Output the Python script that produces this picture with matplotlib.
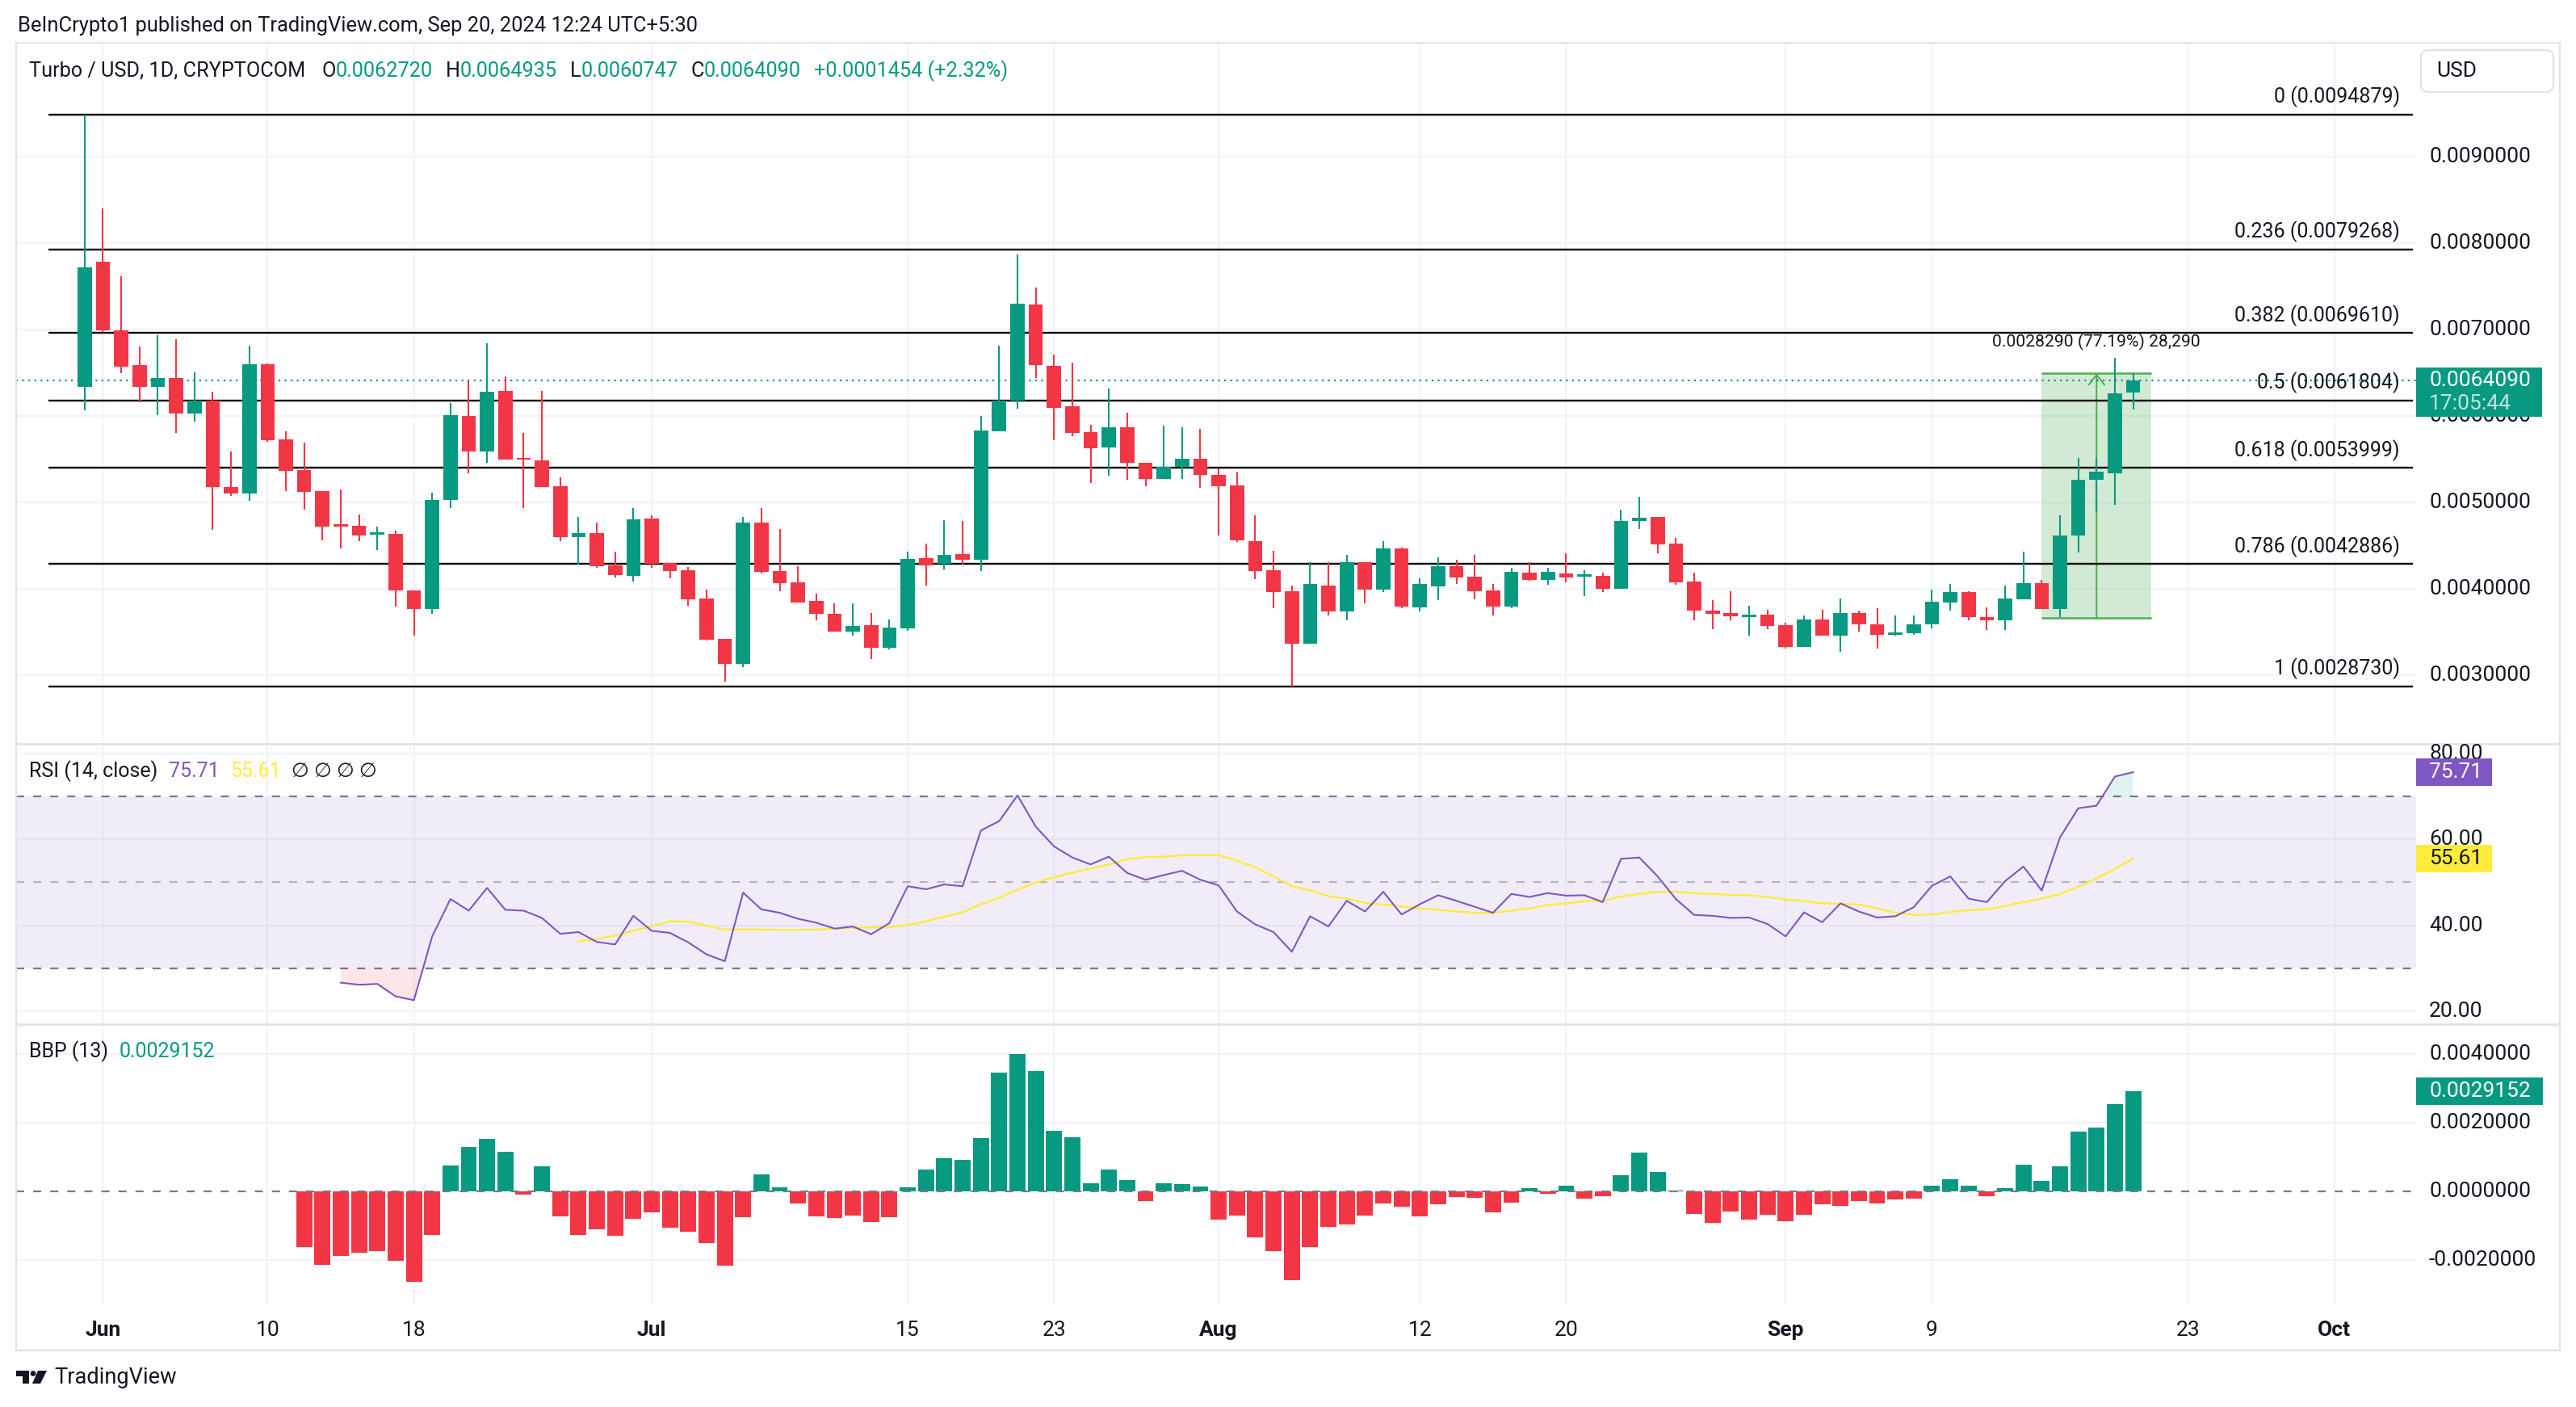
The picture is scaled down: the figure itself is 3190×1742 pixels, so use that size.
import matplotlib
matplotlib.use('Agg')
import matplotlib.pyplot as plt
import matplotlib.transforms as mtransforms
from matplotlib.patches import Rectangle, FancyBboxPatch, Circle, Polygon
import numpy as np
import pandas as pd

plt.rcParams['font.family'] = ['Roboto', 'DejaVu Sans']

# ---- data (daily candles, first bar = 2024-05-31) ----
start = pd.Timestamp('2024-05-31')

opens = [0.006342, 0.007786, 0.006995, 0.006590, 0.006342, 0.006442, 0.006033, 0.006176, 0.005184, 0.005108,
         0.006600, 0.005732, 0.005375, 0.005132, 0.004741, 0.004732, 0.004632, 0.004636, 0.003988, 0.003774,
         0.005027, 0.006004, 0.005594, 0.006290, 0.005508, 0.005490, 0.005189, 0.004598, 0.004646, 0.004274,
         0.004150, 0.004813, 0.004306, 0.004217, 0.003891, 0.003423, 0.003132, 0.004767, 0.004209, 0.004077,
         0.003860, 0.003713, 0.003512, 0.003582, 0.003322, 0.003547, 0.004356, 0.004294, 0.004403, 0.004341,
         0.005824, 0.006184, 0.007291, 0.006579, 0.006114, 0.005812, 0.005642, 0.005874, 0.005464, 0.005270,
         0.005410, 0.005503, 0.005317, 0.005196, 0.004551, 0.004218, 0.003972, 0.003371, 0.004041, 0.003745,
         0.004311, 0.003994, 0.004470, 0.003791, 0.004031, 0.004265, 0.004143, 0.003985, 0.003801, 0.004187,
         0.004109, 0.004180, 0.004146, 0.004149, 0.004006, 0.004788, 0.004835, 0.004523, 0.004087, 0.003751,
         0.003723, 0.003673, 0.003704, 0.003583, 0.003334, 0.003651, 0.003465, 0.003723, 0.003589, 0.003474,
         0.003489, 0.003589, 0.003848, 0.003966, 0.003673, 0.003636, 0.003885, 0.004065, 0.003767, 0.004617,
         0.005261, 0.005342, 0.0062720]
highs = [0.0094879, 0.008401, 0.007620, 0.006805, 0.006938, 0.006890, 0.006504, 0.006280, 0.005589, 0.006814,
         0.006610, 0.005828, 0.005694, 0.005137, 0.005151, 0.004860, 0.004722, 0.004675, 0.003988, 0.005113,
         0.006152, 0.006409, 0.006843, 0.006457, 0.005804, 0.006295, 0.005294, 0.004836, 0.004769, 0.004431,
         0.004936, 0.004850, 0.004306, 0.004256, 0.003992, 0.003423, 0.004832, 0.004941, 0.004693, 0.004263,
         0.003946, 0.003837, 0.003837, 0.003721, 0.003648, 0.004430, 0.004526, 0.004798, 0.004786, 0.005998,
         0.006811, 0.007869, 0.007485, 0.006711, 0.006618, 0.005901, 0.006320, 0.006037, 0.005464, 0.005890,
         0.005874, 0.005851, 0.005395, 0.005358, 0.004850, 0.004439, 0.004041, 0.004311, 0.004311, 0.004392,
         0.004311, 0.004554, 0.004476, 0.004125, 0.004368, 0.004336, 0.004399, 0.004062, 0.004249, 0.004311,
         0.004249, 0.004414, 0.004218, 0.004187, 0.004922, 0.005068, 0.004835, 0.004592, 0.004187, 0.003876,
         0.003978, 0.003807, 0.003760, 0.003614, 0.003692, 0.003760, 0.003894, 0.003751, 0.003782, 0.003698,
         0.003698, 0.003994, 0.004062, 0.003978, 0.003785, 0.004041, 0.004430, 0.004103, 0.004850, 0.005513,
         0.005513, 0.006678, 0.0064935]
lows = [0.006066, 0.006971, 0.006495, 0.006161, 0.006009, 0.005804, 0.005933, 0.004684, 0.005075, 0.005017,
        0.005704, 0.005137, 0.004922, 0.004565, 0.004470, 0.004550, 0.004455, 0.003802, 0.003459, 0.003716,
        0.004941, 0.005342, 0.005456, 0.005494, 0.004936, 0.005184, 0.004550, 0.004288, 0.004245, 0.004136,
        0.004088, 0.004244, 0.004128, 0.003810, 0.003403, 0.002930, 0.003101, 0.004178, 0.003977, 0.003841,
        0.003636, 0.003512, 0.003462, 0.003190, 0.003307, 0.003519, 0.004040, 0.004228, 0.004283, 0.004213,
        0.005824, 0.006083, 0.006444, 0.005719, 0.005766, 0.005224, 0.005309, 0.005262, 0.005185, 0.005270,
        0.005270, 0.005173, 0.004623, 0.004548, 0.004112, 0.003776, 0.002873, 0.003371, 0.003698, 0.003636,
        0.003838, 0.003970, 0.003776, 0.003745, 0.003869, 0.004062, 0.003885, 0.003698, 0.003782, 0.004096,
        0.004047, 0.004081, 0.003916, 0.003970, 0.004006, 0.004694, 0.004414, 0.004050, 0.003642, 0.003536,
        0.003642, 0.003465, 0.003533, 0.003315, 0.003334, 0.003465, 0.003278, 0.003511, 0.003315, 0.003458,
        0.003474, 0.003549, 0.003751, 0.003642, 0.003527, 0.003527, 0.003885, 0.003767, 0.003680, 0.004421,
        0.004891, 0.004975, 0.0060747]
closes = [0.0077195, 0.006995, 0.006576, 0.006342, 0.006442, 0.006033, 0.006176, 0.005184, 0.005108, 0.006600,
          0.005718, 0.005370, 0.005127, 0.004727, 0.004727, 0.004617, 0.004651, 0.003988, 0.003774, 0.005032,
          0.006013, 0.005594, 0.006280, 0.005494, 0.005494, 0.005184, 0.004598, 0.004646, 0.004269, 0.004160,
          0.004808, 0.004294, 0.004213, 0.003880, 0.003415, 0.003132, 0.004767, 0.004197, 0.004070, 0.003849,
          0.003713, 0.003512, 0.003574, 0.003322, 0.003555, 0.004348, 0.004275, 0.004395, 0.004341, 0.005832,
          0.006184, 0.007299, 0.006591, 0.006099, 0.005805, 0.005630, 0.005874, 0.005456, 0.005270, 0.005410,
          0.005506, 0.005316, 0.005193, 0.004567, 0.004206, 0.003963, 0.003371, 0.004056, 0.003745, 0.004311,
          0.003994, 0.004470, 0.003798, 0.004056, 0.004265, 0.004137, 0.003975, 0.003801, 0.004196, 0.004109,
          0.004196, 0.004130, 0.004162, 0.004006, 0.004788, 0.004825, 0.004517, 0.004078, 0.003751, 0.003714,
          0.003683, 0.003704, 0.003574, 0.003334, 0.003651, 0.003465, 0.003723, 0.003589, 0.003474, 0.003496,
          0.003589, 0.003854, 0.003966, 0.003673, 0.003636, 0.003891, 0.004065, 0.003767, 0.004617, 0.005261,
          0.005358, 0.006267, 0.0064090]

# RSI(14) from bar 14, its moving average from bar 27, BBP(13) from bar 12
rsi_start, ma_start, bbp_start = 14, 27, 12
rsi = [26.6, 26.1, 26.3, 23.4, 22.5, 37.4, 46.1, 43.4, 48.7, 43.6, 43.4, 41.7, 38.0, 38.4, 36.1, 35.5, 42.2,
       38.7, 38.2, 36.0, 33.2, 31.6, 47.6, 43.7, 42.9, 41.5, 40.6, 39.2, 39.7, 37.9, 40.5, 49.1, 48.4, 49.5,
       49.1, 62.1, 64.3, 70.3, 63.0, 58.4, 55.8, 54.2, 56.0, 52.2, 50.6, 51.7, 52.7, 50.6, 49.3, 43.2, 40.2,
       38.4, 33.8, 42.1, 39.7, 45.7, 43.2, 47.8, 42.5, 44.9, 47.0, 45.7, 44.3, 42.9, 47.3, 46.6, 47.5, 46.9,
       47.0, 45.4, 55.5, 55.8, 51.4, 46.1, 42.4, 42.2, 41.7, 41.8, 40.3, 37.4, 43.0, 40.7, 45.1, 43.2, 41.8,
       42.1, 44.2, 49.2, 51.4, 46.2, 45.4, 50.3, 53.7, 48.1, 60.5, 67.3, 67.9, 74.7, 75.71]
rsi_ma = [36.2, 36.8, 37.6, 38.7, 39.8, 40.9, 40.8, 39.9, 39.0, 39.0, 39.0, 38.9, 38.9, 39.0, 39.2, 39.4,
          39.5, 39.5, 40.1, 40.9, 42.0, 43.05, 44.9, 46.4, 48.3, 50.0, 51.2, 52.3, 53.2, 54.2, 55.4, 55.9,
          56.0, 56.3, 56.4, 56.4, 55.05, 53.5, 51.4, 49.1, 48.1, 46.8, 46.2, 45.2, 44.8, 44.4, 43.9, 43.6,
          43.2, 42.9, 42.9, 43.4, 43.9, 44.7, 45.1, 45.6, 45.7, 46.7, 47.3, 47.8, 47.8, 47.5, 47.3, 47.1,
          47.0, 46.6, 46.0, 45.6, 45.1, 45.0, 44.8, 43.9, 42.9, 42.4, 42.5, 43.1, 43.5, 43.7, 44.5, 45.4,
          46.2, 47.3, 49.0, 50.9, 53.1, 55.61]
bbp = [-0.001624, -0.002141, -0.001882, -0.001788, -0.001741, -0.002024, -0.002635, -0.001271, 0.000761,
       0.001294, 0.001529, 0.001161, -0.000094, 0.000729, -0.000729, -0.001271, -0.001106, -0.001294,
       -0.0008, -0.000604, -0.001059, -0.001176, -0.001506, -0.002165, -0.000753, 0.000494, 0.000118,
       -0.000353, -0.000729, -0.000776, -0.000706, -0.000894, -0.000753, 0.000118, 0.000635, 0.000965,
       0.000918, 0.001553, 0.003459, 0.004, 0.003506, 0.001765, 0.001576, 0.000235, 0.000635, 0.000329,
       -0.000282, 0.000235, 0.000212, 0.000141, -0.000824, -0.000706, -0.001341, -0.001741, -0.002588,
       -0.001624, -0.001035, -0.000965, -0.000706, -0.000353, -0.000447, -0.000729, -0.000376, -0.000165,
       -0.000188, -0.000612, -0.000329, 0.000094, -0.000071, 0.000165, -0.000212, -0.000141, 0.000471,
       0.001129, 0.000565, 0.00002, -0.000659, -0.000918, -0.000588, -0.000824, -0.000682, -0.000871,
       -0.000682, -0.000376, -0.000424, -0.000282, -0.000353, -0.000235, -0.000212, 0.000165, 0.000353,
       0.000165, -0.000141, 0.000094, 0.000776, 0.000306, 0.000729, 0.001741, 0.001859, 0.002541, 0.0029152]

fib_labels = ['0', '0.236', '0.382', '0.5', '0.618', '0.786', '1']
fib_prices = [0.0094879, 0.0079268, 0.0069610, 0.0061804, 0.0053999, 0.0042886, 0.0028730]

last_price = 0.0064090
long_from, long_to = 107, 113          # bars spanned by the long-position box
long_low, long_high = 0.003665, 0.006494

price_ticks = [0.003, 0.004, 0.005, 0.006, 0.007, 0.008, 0.009]
rsi_ticks = [20, 40, 60, 80]
bbp_ticks = [-0.002, 0.0, 0.002, 0.004]

tick_dates = ['2024-06-01', '2024-06-10', '2024-06-18', '2024-07-01', '2024-07-15', '2024-07-23', '2024-08-01',
              '2024-08-12', '2024-08-20', '2024-09-01', '2024-09-09', '2024-09-23', '2024-10-01']
tick_labels = ['Jun', '10', '18', 'Jul', '15', '23', 'Aug', '12', '20', 'Sep', '9', '23', 'Oct']

# ---- style ----
GREEN = '#089981'
RED = '#F23645'
TXT = '#131722'
GRID = '#F0F3FA'
PURPLE = '#7E57C2'
YELLOW = '#FFEB3B'
BAND = '#787B86'

W, H = 3190, 1742
fig = plt.figure(figsize=(W / 200, H / 200), dpi=200)
fig.patch.set_facecolor('white')


def fx(px):
    return px / W


def fy(py):
    return 1 - py / H


left, right = fx(20), fx(2992)
ax_p = fig.add_axes([left, fy(921), right - left, fy(53) - fy(921)])
ax_r = fig.add_axes([left, fy(1268), right - left, fy(921) - fy(1268)])
ax_b = fig.add_axes([left, fy(1616), right - left, fy(1268) - fy(1616)])

xlim = (-3.746, 127.47)
ax_p.set_ylim(0.0022099, 0.0103173)
ax_r.set_ylim(16.91, 82.32)
ax_b.set_ylim(-0.003318, 0.004871)

tick_pos = [(pd.Timestamp(d) - start).days for d in tick_dates]
for ax in (ax_p, ax_r, ax_b):
    ax.set_xlim(xlim)
    ax.set_axis_off()
    for p in tick_pos:
        ax.axvline(p, color=GRID, lw=0.8, zorder=0)

# ---- price pane ----
for v in price_ticks:
    ax_p.axhline(v, color=GRID, lw=0.8, zorder=0)

o = np.array(opens)
h = np.array(highs)
l = np.array(lows)
c = np.array(closes)
x = np.arange(len(c))
cols = [GREEN if cc >= oo else RED for oo, cc in zip(o, c)]
ax_p.vlines(x, l, h, colors=cols, lw=0.75, zorder=3)
ax_p.bar(x, np.maximum(np.abs(c - o), 0.000022), bottom=np.minimum(o, c), width=0.78,
         color=cols, linewidth=0, zorder=3.1)

ax_p.hlines(fib_prices, -2.0, 127.3, colors='black', lw=0.85, zorder=2)
blend_p = mtransforms.blended_transform_factory(ax_p.transAxes, ax_p.transData)
for lbl, p in zip(fib_labels, fib_prices):
    ax_p.annotate(f'{lbl} ({p:.7f})', xy=(0.99327, p), xycoords=blend_p, xytext=(0, 8),
                  textcoords='offset points', ha='right', va='center', fontsize=9, color=TXT, zorder=4)

ax_p.axhline(last_price, color=GREEN, lw=0.8, ls=(0, (1, 2.4)), zorder=2.5)

ax_p.add_patch(Rectangle((long_from, long_low), long_to - long_from, long_high - long_low,
                         facecolor='#4CAF50', alpha=0.25, edgecolor='none', zorder=1.5))
ax_p.hlines([long_low, long_high], long_from, long_to, colors='#4CAF50', lw=0.9, zorder=1.6)
mid = (long_from + long_to) / 2
ax_p.annotate('', xy=(mid, long_high), xytext=(mid, long_low),
              arrowprops=dict(arrowstyle='->,head_length=0.45,head_width=0.35', color='#4CAF50',
                              lw=0.7, shrinkA=0, shrinkB=0), zorder=1.7)
diff = long_high - long_low
ax_p.annotate(f'{diff:.7f} ({diff / long_low * 100:.2f}%) {diff * 1e7:,.0f}', xy=(mid, long_high),
              xytext=(0, 14), textcoords='offset points', ha='center', va='center',
              fontsize=7.6, color=TXT, zorder=4)

# ---- RSI pane ----
for v in rsi_ticks:
    ax_r.axhline(v, color=GRID, lw=0.8, zorder=0)
ax_r.axhspan(30, 70, color=PURPLE, alpha=0.1, lw=0, zorder=0.5)
ax_r.axhline(70, color=BAND, lw=0.8, ls=(0, (4.5, 5)), zorder=1)
ax_r.axhline(50, color=BAND, alpha=0.5, lw=0.8, ls=(0, (4.5, 5)), zorder=1)
ax_r.axhline(30, color=BAND, lw=0.8, ls=(0, (4.5, 5)), zorder=1)
rx = np.arange(rsi_start, rsi_start + len(rsi))
mx = np.arange(ma_start, ma_start + len(rsi_ma))
ra = np.array(rsi)
ax_r.fill_between(rx, ra, 30, where=ra < 30, interpolate=True, color=RED, alpha=0.12, lw=0, zorder=1.5)
ax_r.fill_between(rx, ra, 70, where=ra > 70, interpolate=True, color=GREEN, alpha=0.12, lw=0, zorder=1.5)
ax_r.plot(mx, rsi_ma, color=YELLOW, lw=0.85, zorder=2)
ax_r.plot(rx, rsi, color=PURPLE, lw=0.75, zorder=3)

# ---- BBP pane ----
for v in bbp_ticks:
    if v != 0:
        ax_b.axhline(v, color=GRID, lw=0.8, zorder=0)
bx = np.arange(bbp_start, bbp_start + len(bbp))
ax_b.bar(bx, bbp, width=0.88, color=[GREEN if v >= 0 else RED for v in bbp], linewidth=0, zorder=2)
ax_b.axhline(0, color=BAND, lw=0.8, ls=(0, (4.5, 5)), zorder=3)

# ---- time axis ----
tx = mtransforms.blended_transform_factory(ax_b.transData, fig.transFigure)
for p, s in zip(tick_pos, tick_labels):
    bold = not s.isdigit()
    ax_b.text(p, fy(1647), s, transform=tx, ha='center', va='center', fontsize=9.5, color=TXT,
              fontweight='bold' if bold else 'normal', clip_on=False)

# ---- right scales ----
def fig_y(ax, v):
    return fig.transFigure.inverted().transform(ax.transData.transform((0, v)))[1]


for v in price_ticks:
    fig.text(fx(3008), fig_y(ax_p, v), f'{v:.7f}', ha='left', va='center', fontsize=9.5, color=TXT, zorder=4)
for v in rsi_ticks:
    fig.text(fx(3008), fig_y(ax_r, v), f'{v:.2f}', ha='left', va='center', fontsize=9.5, color=TXT, zorder=4)
for v in bbp_ticks:
    fig.text(fx(3008), fig_y(ax_b, v), f'{v:.7f}', ha='left', va='center', fontsize=9.5, color=TXT, zorder=4)


def value_box(ax, v, text, face, tcolor, w_px, up_px=17, down_px=17, sub=None):
    yc = fig_y(ax, v)
    fig.patches.append(Rectangle((fx(2992), yc - down_px / H), w_px / W, (up_px + down_px) / H,
                                 transform=fig.transFigure, facecolor=face, edgecolor='none', zorder=5))
    fig.text(fx(3008), yc, text, ha='left', va='center', fontsize=9.5, color=tcolor, zorder=6)
    if sub:
        fig.text(fx(3008), yc - 29 / H, sub, ha='left', va='center', fontsize=9.5, color=tcolor,
                 alpha=0.75, zorder=6)


value_box(ax_p, last_price, f'{last_price:.7f}', GREEN, 'white', 156, up_px=16, down_px=45, sub='17:05:44')
value_box(ax_r, rsi[-1], f'{rsi[-1]:.2f}', PURPLE, 'white', 94)
value_box(ax_r, rsi_ma[-1], f'{rsi_ma[-1]:.2f}', YELLOW, TXT, 94)
value_box(ax_b, bbp[-1], f'{bbp[-1]:.7f}', GREEN, 'white', 157)

fig.patches.append(FancyBboxPatch((fx(2998), fy(114)), fx(164), 52 / H, boxstyle='round,pad=0,rounding_size=0.003',
                                  mutation_aspect=W / H, transform=fig.transFigure, facecolor='white',
                                  edgecolor='#E0E3EB', lw=0.8, zorder=5))
fig.text(fx(3017), fy(88), 'USD', ha='left', va='center', fontsize=9.5, color=TXT, zorder=6)

# ---- frame and separators ----
fig.patches.append(Rectangle((fx(20), fy(1672)), fx(3150), (1672 - 53) / H, transform=fig.transFigure,
                             fill=False, edgecolor='#E0E3EB', lw=0.8, zorder=1))
for yy in (921, 1268):
    fig.lines.append(plt.Line2D([fx(20), fx(3170)], [fy(yy), fy(yy)], transform=fig.transFigure,
                                color='#E0E3EB', lw=1.0, zorder=1))

# ---- header texts ----
fig.text(fx(22), fy(32), 'BeInCrypto1 published on TradingView.com, Sep 20, 2024 12:24 UTC+5:30',
         ha='left', va='center', fontsize=9.2, color=TXT)

renderer = fig.canvas.get_renderer()


def pieces(x0, y0, parts, size=9.5):
    xx = x0
    for s, col, gap in parts:
        t = fig.text(xx, y0, s, ha='left', va='center', fontsize=size, color=col, zorder=6)
        bb = t.get_window_extent(renderer)
        xx = bb.x1 / fig.bbox.width + gap / W


pieces(fx(36), fy(88), [('Turbo / USD, 1D, CRYPTOCOM', TXT, 20), ('O', TXT, 0), ('0.0062720', GREEN, 16),
                        ('H', TXT, 0), ('0.0064935', GREEN, 16), ('L', TXT, 0), ('0.0060747', GREEN, 16),
                        ('C', TXT, 0), ('0.0064090', GREEN, 16), ('+0.0001454 (+2.32%)', GREEN, 0)], size=9.1)
pieces(fx(36), fy(955), [('RSI (14, close)', TXT, 14), ('75.71', PURPLE, 13), ('55.61', YELLOW, 13),
                         ('\u2205 \u2205 \u2205 \u2205', TXT, 0)], size=9.0)
pieces(fx(36), fy(1302), [('BBP (13)', TXT, 14), ('0.0029152', GREEN, 0)], size=9.0)

# ---- TradingView logo ----
ax_logo = fig.add_axes([fx(18), fy(1726), fx(44), 34 / H])
ax_logo.set_xlim(18, 62)
ax_logo.set_ylim(1726, 1692)
ax_logo.set_axis_off()
ax_logo.add_patch(Rectangle((20, 1697), 16, 7, color=TXT, lw=0))
ax_logo.add_patch(Rectangle((28, 1697), 8, 16, color=TXT, lw=0))
ax_logo.add_patch(Circle((41, 1700.5), 3.4, color=TXT, lw=0))
ax_logo.add_patch(Polygon([(47, 1697), (58, 1697), (50, 1713), (40, 1713)], closed=True, color=TXT, lw=0))
fig.text(fx(67), fy(1705), 'TradingView', ha='left', va='center', fontsize=9.8, color=TXT)

fig.savefig('out.png', dpi=200, facecolor='white')
